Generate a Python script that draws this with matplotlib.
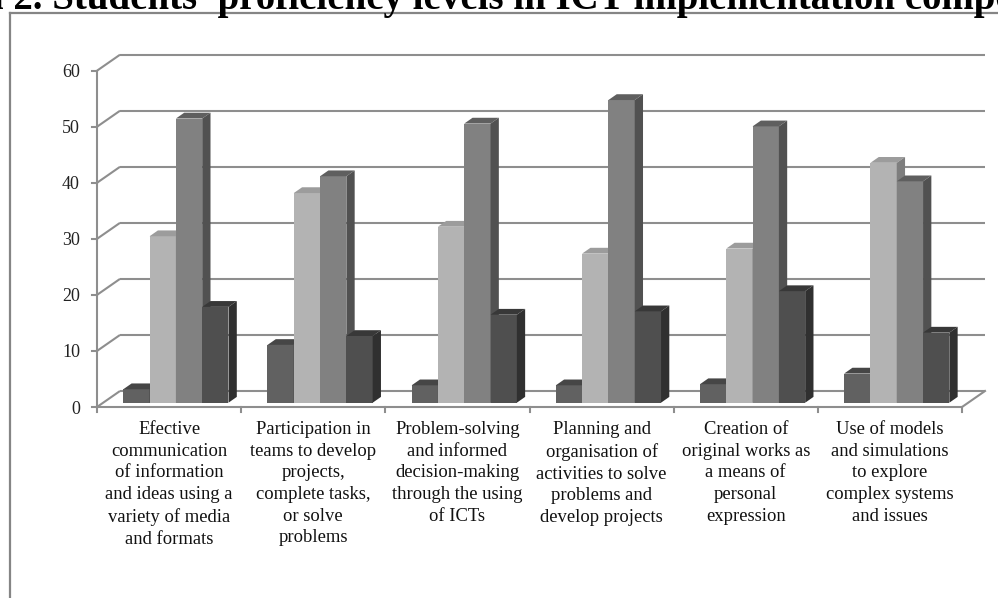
import matplotlib
matplotlib.use('Agg')
import matplotlib.pyplot as plt
from matplotlib.patches import Polygon
from matplotlib.lines import Line2D

# ---------------- data ----------------
categories = [
    "Efective\ncommunication\nof information\nand ideas using a\nvariety of media\nand formats",
    "Participation in\nteams to develop\nprojects,\ncomplete tasks,\nor solve\nproblems",
    "Problem-solving\nand informed\ndecision-making\nthrough the using\nof ICTs",
    "Planning and\norganisation of\nactivities to solve\nproblems and\ndevelop projects",
    "Creation of\noriginal works as\na means of\npersonal\nexpression",
    "Use of models\nand simulations\nto explore\ncomplex systems\nand issues",
]
s1 = [2.4, 10.3, 3.1, 3.1, 3.3, 5.2]
s2 = [29.7, 37.4, 31.4, 26.6, 27.5, 42.8]
s3 = [50.7, 40.4, 49.8, 54.0, 49.3, 39.5]
s4 = [17.1, 11.9, 15.7, 16.3, 19.9, 12.5]
series = [s1, s2, s3, s4]
yticks = [0, 10, 20, 30, 40, 50, 60]
title = "n 2. Students' proficiency levels in ICT implementation competences"

# colours (front, top, side) per series
front_cols = ['#616161', '#b3b3b3', '#818181', '#4f4f4f']
top_cols = ['#464646', '#9c9c9c', '#5f5f5f', '#383838']
side_cols = ['#3e3e3e', '#7e7e7e', '#515151', '#303030']
grid_col = '#8e8e8e'

W, H = 998, 598
fig = plt.figure(figsize=(W / 100, H / 100), dpi=100)
ax = fig.add_axes([0, 0, 1, 1])
ax.axis('off')

px_x0, px_cat, px_y0, px_unit = 97.0, 144.17, 407.0, 5.605
ax.set_xlim(-px_x0 / px_cat, (W - px_x0) / px_cat)
ax.set_ylim(-(H - px_y0) / px_unit, px_y0 / px_unit)

n = len(categories)
DX, DY = 23 / px_cat, 16 / px_unit          # floor depth
lw = 1.5

# walls / gridlines
for v in yticks:
    ax.plot([0, DX], [v, v + DY], color=grid_col, lw=lw, zorder=1, solid_capstyle='butt')
    ax.plot([DX, n + DX], [v + DY, v + DY], color=grid_col, lw=lw, zorder=1, solid_capstyle='butt')
    ax.plot([-5 / px_cat, 0], [v, v], color=grid_col, lw=lw, zorder=1)
    ax.text(-17 / px_cat, v, str(v), ha='right', va='center_baseline', fontsize=13,
            family='Liberation Serif', color='#222222')
ax.plot([0, n], [0, 0], color=grid_col, lw=lw, zorder=1)
ax.plot([n, n + DX], [0, DY], color=grid_col, lw=lw, zorder=1)
ax.plot([0, 0], [0, yticks[-1]], color=grid_col, lw=lw, zorder=1)
for k in range(n + 1):
    ax.plot([k, k], [0, -5 / px_unit], color=grid_col, lw=lw, zorder=1)

# bars
base = 4.3 / px_unit
bw = 26.3 / px_cat
goff = 26.3 / px_cat
bdx, bdy = 8.3 / px_cat, 5.8 / px_unit
z = 5
for k in range(n):
    for j, s in enumerate(series):
        v = s[k]
        l = k + goff + j * bw
        ax.bar(l, v, width=bw, bottom=base, align='edge', color=front_cols[j],
               edgecolor='none', zorder=z)
        top = [(l, base + v), (l + bw, base + v), (l + bw + bdx, base + v + bdy), (l + bdx, base + v + bdy)]
        side = [(l + bw, base), (l + bw + bdx, base + bdy), (l + bw + bdx, base + v + bdy), (l + bw, base + v)]
        ax.add_patch(Polygon(top, closed=True, facecolor=top_cols[j], edgecolor='none', zorder=z))
        ax.add_patch(Polygon(side, closed=True, facecolor=side_cols[j], edgecolor='none', zorder=z))
        z += 1

# category labels
for k, lab in enumerate(categories):
    ax.text(k + 0.5, (px_y0 - 421) / px_unit, lab, ha='center', va='top', fontsize=13.4,
            linespacing=1.36, family='Liberation Serif', color='#111111')

# chart border
fig.add_artist(Line2D([9.5 / W, 9.5 / W], [0, 1 - 13 / H], color='#858585', lw=1.6,
                      transform=fig.transFigure))
fig.add_artist(Line2D([9.5 / W, 1.0], [1 - 13 / H, 1 - 13 / H], color='#858585', lw=1.6,
                      transform=fig.transFigure))

# title (cut off at top)
fig.text(-18 / W, 1 - 9 / H, title, ha='left', va='baseline', fontsize=28,
         fontweight='bold', family='Liberation Serif', color='black')

fig.savefig('out.png', dpi=100)
